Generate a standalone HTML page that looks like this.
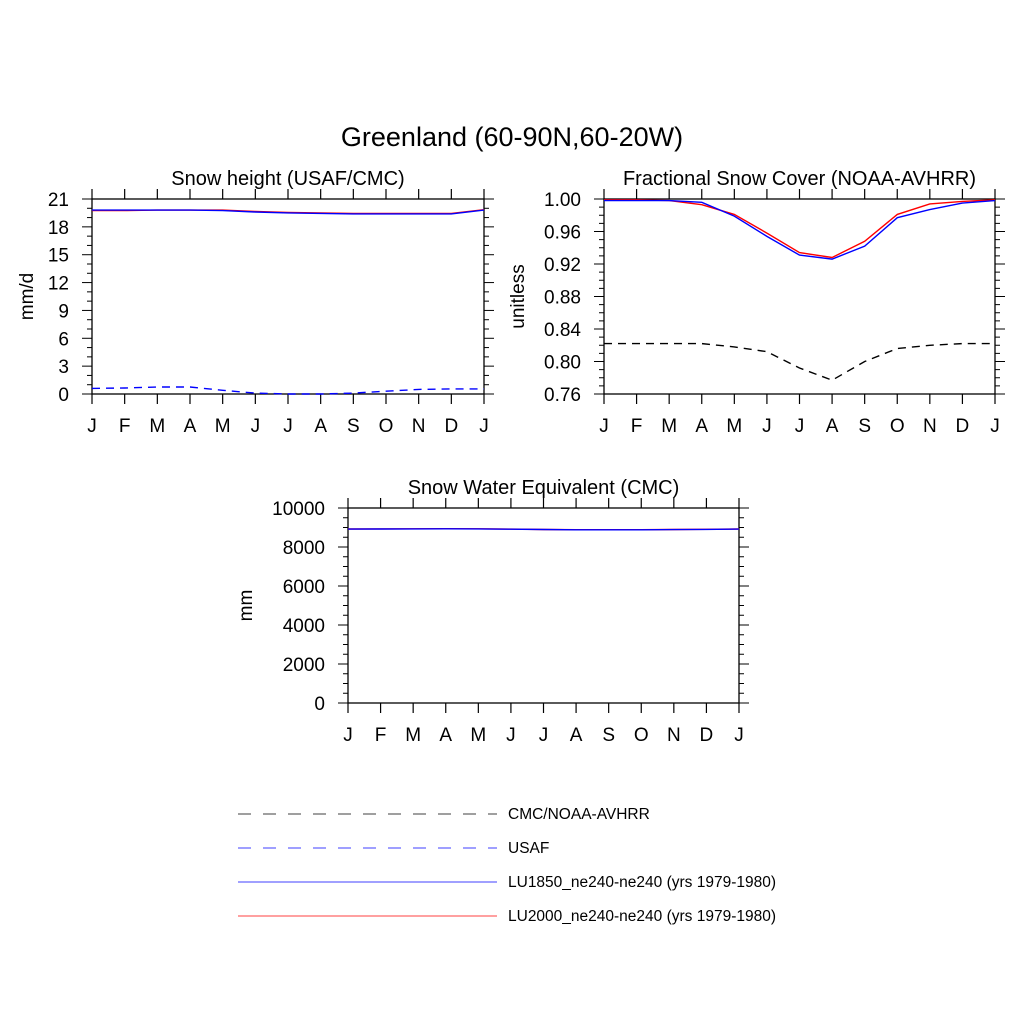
<!DOCTYPE html>
<html><head><meta charset="utf-8"><style>
body{margin:0;background:#fff;width:1024px;height:1024px;overflow:hidden}
svg text{font-family:"Liberation Sans",Arial,sans-serif;fill:#000}
</style></head><body>
<svg id="s" width="1024" height="1024" xmlns="http://www.w3.org/2000/svg">
<text x="512" y="146" font-size="27" text-anchor="middle">Greenland (60-90N,60-20W)</text>
<g>
<line x1="238" y1="814" x2="497" y2="814" stroke="#000" stroke-width="0.8" stroke-dasharray="13,12"/>
<text x="508" y="819" font-size="15.5">CMC/NOAA-AVHRR</text>
<line x1="238" y1="848" x2="497" y2="848" stroke="#00f" stroke-width="0.8" stroke-dasharray="13,12"/>
<text x="508" y="853" font-size="15.5">USAF</text>
<line x1="238" y1="882" x2="497" y2="882" stroke="#00f" stroke-width="0.8"/>
<text x="508" y="887" font-size="15.5">LU1850_ne240-ne240 (yrs 1979-1980)</text>
<line x1="238" y1="916" x2="497" y2="916" stroke="#f00" stroke-width="0.8"/>
<text x="508" y="921" font-size="15.5">LU2000_ne240-ne240 (yrs 1979-1980)</text>
</g>
</svg>
<script>
const months=["J","F","M","A","M","J","J","A","S","O","N","D","J"];
// Panel 1: snow height
const p1Blue=[19.8,19.8,19.8,19.8,19.75,19.6,19.5,19.45,19.4,19.4,19.4,19.4,19.8];
const p1Red=[19.75,19.75,19.8,19.8,19.8,19.65,19.55,19.5,19.45,19.45,19.45,19.45,19.85];
const p1Usaf=[0.6,0.65,0.75,0.75,0.4,0.1,0.0,0.0,0.1,0.3,0.5,0.55,0.55];
const p1Ticks=[0,3,6,9,12,15,18,21];
// Panel 2: fractional snow cover
const p2Red=[0.999,0.999,0.998,0.993,0.981,0.958,0.934,0.928,0.948,0.981,0.994,0.997,0.999];
const p2Blue=[0.998,0.998,0.998,0.996,0.979,0.954,0.931,0.926,0.942,0.977,0.987,0.995,0.998];
const p2Obs=[0.822,0.822,0.822,0.822,0.818,0.812,0.792,0.777,0.800,0.816,0.820,0.822,0.822];
const p2Ticks=["0.76","0.80","0.84","0.88","0.92","0.96","1.00"];
// Panel 3: SWE
const p3Blue=[8920,8925,8930,8935,8930,8915,8895,8880,8880,8880,8890,8905,8920];
const p3Red=[8925,8930,8935,8940,8935,8920,8900,8885,8885,8885,8895,8910,8925];
const p3Ticks=[0,2000,4000,6000,8000,10000];

const svg=document.getElementById('s');const NS="http://www.w3.org/2000/svg";
function mk(t,a,p){const e=document.createElementNS(NS,t);for(const k in a)e.setAttribute(k,a[k]);(p||svg).appendChild(e);return e;}
function panel(o){
 const g=mk('g',{});
 
 
 const X=i=>o.x0+(o.x1-o.x0)*i/12, Y=v=>o.y1-(o.y1-o.y0)*(v-o.min)/(o.max-o.min);
 const t=mk('text',{x:(o.x0+o.x1)/2,y:o.y0-14,'font-size':20,'text-anchor':'middle'},g);t.textContent=o.title;
 
 
 const yt=mk('text',{x:0,y:0,'font-size':19,'text-anchor':'middle',transform:`translate(${o.x0-o.ytoff},${(o.y0+o.y1)/2}) rotate(-90)`},g);yt.textContent=o.ytitle;
 
 
 for(let i=0;i<=12;i++){const x=X(i);
  mk('line',{x1:x,x2:x,y1:o.y0,y2:o.y0-10,stroke:'#000','stroke-width':1.2},g);
  mk('line',{x1:x,x2:x,y1:o.y1,y2:o.y1+10,stroke:'#000','stroke-width':1.2},g);
  const l=mk('text',{x:x,y:o.y1+38,'font-size':19,'text-anchor':'middle'},g);l.textContent=months[i];
  
  }
 for(let v=o.min;v<=o.max+1e-9;v+=o.minor){const y=Y(v);
  const maj=Math.abs(((v-o.min)/o.major)-Math.round((v-o.min)/o.major))<1e-6;const len=maj?10:5;
  mk('line',{x1:o.x0,x2:o.x0-len,y1:y,y2:y,stroke:'#000','stroke-width':1},g);
  mk('line',{x1:o.x1,x2:o.x1+len,y1:y,y2:y,stroke:'#000','stroke-width':1},g);}
 o.ticks.forEach(tv=>{const y=Y(parseFloat(tv));const l=mk('text',{x:o.x0-23,y:y+7,'font-size':19,'text-anchor':'end'},g);l.textContent=tv;
  
  });
 mk('rect',{x:o.x0,y:o.y0,width:o.x1-o.x0,height:o.y1-o.y0,fill:'none',stroke:'#000','stroke-width':1.3},g);
 o.series.forEach(s=>{const pts=s.d.map((v,i)=>X(i).toFixed(1)+','+Y(v).toFixed(1)).join(' ');
  const pl=mk('polyline',{points:pts,fill:'none',stroke:s.c,'stroke-width':1.4,'stroke-dasharray':s.dash||'none'},g);
  
  });
}
panel({name:'snow-height-panel',title:'Snow height (USAF/CMC)',ytitle:'mm/d',ytoff:59,x0:92,x1:484,y0:199,y1:394,min:0,max:21,major:3,minor:1,ticks:p1Ticks.map(String),
 series:[{d:p1Usaf,c:'#00f',dash:'8,6',n:'usaf-line'},{d:p1Red,c:'#f00',n:'lu2000-line'},{d:p1Blue,c:'#00f',n:'lu1850-line'}]});
panel({name:'snow-cover-panel',title:'Fractional Snow Cover (NOAA-AVHRR)',ytitle:'unitless',ytoff:80,x0:604,x1:995,y0:199,y1:394,min:0.76,max:1.0,major:0.04,minor:0.01,ticks:p2Ticks,
 series:[{d:p2Obs,c:'#000',dash:'8,6',n:'noaa-avhrr-line'},{d:p2Red,c:'#f00',n:'lu2000-line'},{d:p2Blue,c:'#00f',n:'lu1850-line'}]});
panel({name:'swe-panel',title:'Snow Water Equivalent (CMC)',ytitle:'mm',ytoff:96,x0:348,x1:739,y0:508,y1:703,min:0,max:10000,major:2000,minor:500,ticks:p3Ticks.map(String),
 series:[{d:p3Red,c:'#f00',n:'lu2000-line'},{d:p3Blue,c:'#00f',n:'lu1850-line'}]});
</script>
</body></html>
